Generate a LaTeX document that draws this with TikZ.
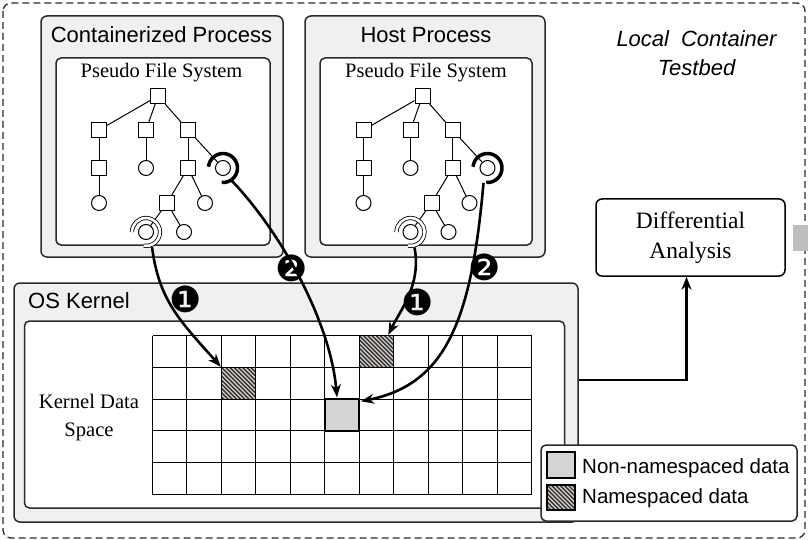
\documentclass[tikz,border=0pt]{standalone}
\usepackage{fontspec}
\setmainfont{Liberation Serif}
\setsansfont{Liberation Sans}
\newfontfamily\dingfont{DejaVu Sans}
\usetikzlibrary{arrows.meta,calc}
\definecolor{boxgray}{HTML}{F0F0F0}
\definecolor{edgegray}{HTML}{2B2B2B}
\definecolor{cellgray}{HTML}{D4D4D4}
\definecolor{hatchbg}{HTML}{D8D0CC}
\definecolor{stubgray}{HTML}{BEBEBE}
\tikzset{
 outerbox/.style={draw=edgegray, line width=1.5pt, fill=boxgray, rounded corners=6pt, inner sep=0pt},
 innerbox/.style={draw=edgegray, line width=1.5pt, fill=white, rounded corners=5pt, inner sep=0pt},
 sq/.style={draw=black, fill=white, line width=1pt, minimum size=15pt, inner sep=0pt},
 cir/.style={draw=black, fill=white, circle, line width=1pt, minimum size=15pt, inner sep=0pt},
 tedge/.style={line width=1pt},
 hlthick/.style={line width=3.5pt},
 hldouble/.style={line width=0.8pt, double=white, double distance=2.6pt},
 conn/.style={line width=2.6pt, -{Stealth[length=13pt,width=10pt]}},
 hatch/.style={fill=hatchbg, path picture={\foreach \k in {-10,...,10}{\draw[line width=1.4pt, black!80] ($(path picture bounding box.north west)+(\k*4.2,0)$) -- ++(45,45);}}},
 cell/.style={draw=black, line width=1.2pt, minimum width=34.45pt, minimum height=31.8pt, inner sep=0pt},
 gridl/.style={line width=1pt, black},
 badge/.style={font=\dingfont\fontsize{36}{36}\selectfont, inner sep=0pt},
 sanstitle/.style={font=\sffamily\fontsize{22}{26}\selectfont, inner sep=0pt},
 serifsub/.style={font=\fontsize{20.5}{24}\selectfont, inner sep=0pt},
}
\newcommand{\fstree}[2]{%
\begin{scope}[xshift=#2]
\node[sq] (#1r) at (158,96) {};
\node[sq] (#1a) at (99,130) {};
\node[sq] (#1b) at (146,130) {};
\node[sq] (#1c) at (188,130) {};
\node[sq] (#1a2) at (99,168) {};
\node[cir] (#1b2) at (146,168) {};
\node[sq] (#1c2) at (188,168) {};
\node[cir] (#1c3) at (223,168) {};
\node[cir] (#1a3) at (99,203) {};
\node[sq] (#1d) at (167,203) {};
\node[cir] (#1e) at (205,203) {};
\node[cir] (#1f) at (146,232) {};
\node[cir] (#1g) at (184,232) {};
\draw[tedge] (#1r) -- (#1a); \draw[tedge] (#1r) -- (#1b); \draw[tedge] (#1r) -- (#1c);
\draw[tedge] (#1a) -- (#1a2); \draw[tedge] (#1a2) -- (#1a3);
\draw[tedge] (#1b) -- (#1b2);
\draw[tedge] (#1c) -- (#1c2); \draw[tedge] (#1c) -- (#1c3);
\draw[tedge] (#1c2) -- (#1d); \draw[tedge] (#1c2) -- (#1e);
\draw[tedge] (#1d) -- (#1f); \draw[tedge] (#1d) -- (#1g);
\draw[hlthick] ($(#1c3)+(-175:14.5)$) arc[start angle=-175, end angle=95, radius=14.5];
\draw[hldouble] ($(#1f)+(-180:14)$) arc[start angle=-180, end angle=100, radius=14];
\end{scope}}
\begin{document}
\begin{tikzpicture}[x=1pt,y=-1pt]
\useasboundingbox (0,0) rectangle (808,540);
% outer dashed frame
\draw[edgegray, line width=1.3pt, dash pattern=on 7pt off 4pt, rounded corners=8pt] (3,3) rectangle (805,538);
\fill[stubgray] (793,225) rectangle (808,251);
% containerized process
\node[outerbox, minimum width=242, minimum height=241] (cont) at (162,136.5) {};
\node[sanstitle, anchor=base] (conttitle) at (161.5,42.3) {Containerized Process};
\node[innerbox, minimum width=214, minimum height=187] (contfs) at (163,151.5) {};
\node[serifsub, anchor=base] (contfst) at (161.5,78) {Pseudo File System};
% host process
\node[outerbox, minimum width=240, minimum height=241] (host) at (425,136.5) {};
\node[sanstitle, anchor=base] (hosttitle) at (426,43) {Host Process};
\node[innerbox, minimum width=212, minimum height=187] (hostfs) at (426,151.5) {};
\node[serifsub, anchor=base] (hostfst) at (426,78) {Pseudo File System};
\fstree{C}{0}
\fstree{H}{264.5}
% testbed label
\node[font=\sffamily\itshape\fontsize{22}{28.3}\selectfont, align=center, inner sep=0pt] (testbed) at (696.5,53) {Local\hspace{12pt}Container\\Testbed};
% OS kernel
\node[outerbox, minimum width=564, minimum height=239] (kernel) at (296,402.5) {};
\node[sanstitle, anchor=base west] (kerneltitle) at (28,308) {OS Kernel};
\node[innerbox, minimum width=540, minimum height=187] (kspace) at (294.5,414.5) {};
\node[font=\fontsize{20.6}{28}\selectfont, align=center, inner sep=0pt] (kdlabel) at (89,418) {Kernel Data\\Space};
\foreach \i in {0,...,11} \draw[gridl] ({152.5+\i*34.45},335.5) -- ({152.5+\i*34.45},494.5);
\foreach \j in {0,...,5} \draw[gridl] (152.5,{335.5+\j*31.8}) -- (531.5,{335.5+\j*31.8});
\node[cell, hatch] (hA) at (238.6,383.2) {};
\node[cell, hatch] (hB) at (376.45,351.4) {};
\node[cell, fill=cellgray, line width=1.6pt] (G) at (342,415) {};
% legend
\node[innerbox, minimum width=256, minimum height=76] (legend) at (669,483) {};
\node[cell, fill=cellgray, minimum width=28, minimum height=26] (lg1) at (561,465) {};
\node[cell, hatch, minimum width=28, minimum height=25] (lg2) at (561,497.5) {};
\node[font=\sffamily\fontsize{20.5}{24}\selectfont, anchor=base west, inner sep=0pt] (lgt1) at (582,473) {Non-namespaced data};
\node[font=\sffamily\fontsize{20.5}{24}\selectfont, anchor=base west, inner sep=0pt] (lgt2) at (582,503) {Namespaced data};
% differential analysis
\node[draw=black, line width=1.5pt, rounded corners=6pt, fill=white, minimum width=189, minimum height=77, align=center, inner sep=0pt, font=\fontsize{23.5}{30}\selectfont] (diff) at (690.5,237.5) {Differential\\Analysis};
\draw[line width=2.8pt, -{Stealth[length=13pt,width=10pt]}] ($(kernel.east)+(0,-22.5)$) -| ($(diff.south)+(-4,0)$);
% connectors
\coordinate (C1s) at ($(Cf)+(6,15)$);
\coordinate (C2s) at ($(Cc3)+(9,13)$);
\coordinate (H1s) at ($(Hf)+(4,15.5)$);
\coordinate (H2s) at ($(Hc3)+(-4,15)$);
\coordinate (C1e) at (hA.north west);
\coordinate (C2e) at ($(G.north)+(-5,-1)$);
\coordinate (H1e) at ($(hB.north east)+(-6,0)$);
\coordinate (H2e) at ($(G.north east)+(1,3)$);
\draw[conn] (C1s) .. controls +(7,53) and +(-42,-47) .. (C1e);
\draw[conn] (C2s) .. controls +(47,49) and +(-7,-78) .. (C2e);
\draw[conn] (H1s) .. controls +(7,37) and +(12.5,-25.5) .. (H1e);
\draw[conn] (H2s) .. controls +(-12,137) and +(85,-17) .. (H2e);
\node[badge] (b1) at (186,299) {❶};
\node[badge] (b2) at (292,268) {❷};
\node[badge] (b3) at (418,302) {❶};
\node[badge] (b4) at (485,267) {❷};
\end{tikzpicture}
\end{document}
